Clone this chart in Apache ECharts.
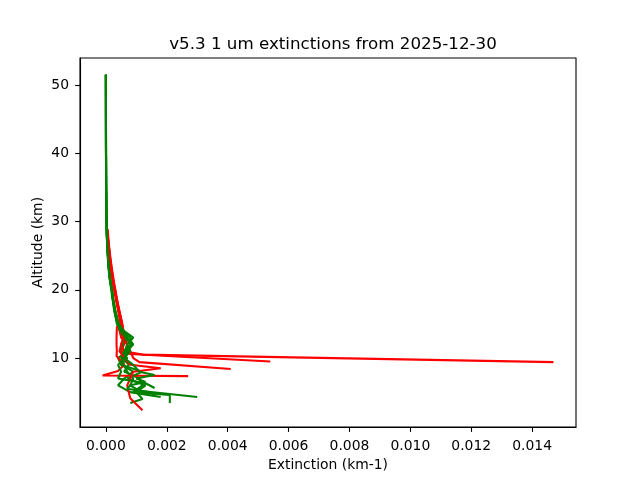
<!DOCTYPE html>
<html><head><meta charset="utf-8">
<script src="https://cdn.jsdelivr.net/npm/echarts@6/dist/echarts.min.js"></script>
<style>html,body{margin:0;padding:0;background:#fff}#c{width:640px;height:480px}</style>
</head><body><div id="c"></div>
<script>
const xTicks = [0, 0.002, 0.004, 0.006, 0.008, 0.010, 0.012, 0.014];
const yTicks = [10, 20, 30, 40, 50];

const g1Alt = [51.5, 45, 40, 35, 30, 28, 26, 24, 22, 21, 20, 19, 18, 17, 16, 15, 14, 13, 12, 11, 10, 9, 8, 7, 6, 5.2, 4.3];
const g1Ext = [0, 0.000002, 0.000004, 0.000008, 0.00002, 0.00003, 0.00005, 0.00008, 0.00012, 0.00015, 0.00019, 0.00022, 0.00025, 0.00028, 0.00032, 0.00036, 0.00045, 0.00058, 0.0007, 0.00062, 0.0005, 0.0006, 0.0007, 0.0009, 0.0008, 0.0011, 0.0030];
const g2Alt = [51.5, 45, 40, 35, 30, 28, 26, 24, 22, 21, 20, 19, 18, 17, 16, 15, 14, 13, 12, 11, 10, 9, 8, 7, 6, 5, 4.6, 3.4];
const g2Ext = [0, 0.000002, 0.000004, 0.00001, 0.000025, 0.00004, 0.00006, 0.00009, 0.00013, 0.00016, 0.0002, 0.00023, 0.00026, 0.0003, 0.00036, 0.00042, 0.00052, 0.0008, 0.00085, 0.0006, 0.00055, 0.00075, 0.0006, 0.0011, 0.0012, 0.0009, 0.0021, 0.0021];
const g3Alt = [51.5, 45, 40, 35, 30, 28, 26, 24, 22, 21, 20, 19, 18, 17, 16, 15, 14, 13, 12, 11, 10, 9, 8, 7, 6, 5, 4.3];
const g3Ext = [0, 0.000001, 0.000003, 0.000007, 0.000018, 0.00003, 0.00005, 0.00007, 0.00011, 0.00014, 0.00018, 0.0002, 0.00024, 0.00027, 0.00032, 0.00038, 0.0005, 0.0007, 0.0009, 0.0007, 0.0004, 0.0005, 0.0009, 0.0006, 0.0004, 0.0008, 0.0018];
const g4Alt = [51.5, 45, 40, 35, 30, 28, 26, 24, 22, 21, 20, 19, 18, 17, 16, 15, 14, 13, 12, 11, 10, 9, 8, 7, 6, 5, 4, 3.4];
const g4Ext = [0, 0.000002, 0.000005, 0.00001, 0.00002, 0.000035, 0.000055, 0.00008, 0.00012, 0.00016, 0.0002, 0.00022, 0.00025, 0.00029, 0.00034, 0.00039, 0.00048, 0.0006, 0.00055, 0.00045, 0.0007, 0.0005, 0.0012, 0.0007, 0.0013, 0.001, 0.0012, 0.0008];
const g5Alt = [51.5, 45, 40, 35, 30, 28, 26, 24, 22, 21, 20, 19, 18, 17, 16, 15, 14, 13, 12, 11, 10, 9, 8, 7.5, 7, 6.5, 6, 5.5, 5, 4.6];
const g5Ext = [0, 0.000001, 0.000003, 0.000008, 0.00002, 0.00003, 0.00005, 0.00008, 0.00012, 0.00015, 0.00019, 0.00022, 0.00025, 0.0003, 0.00035, 0.0004, 0.0005, 0.00065, 0.0008, 0.0007, 0.0006, 0.0009, 0.0011, 0.0016, 0.001, 0.0013, 0.0008, 0.0007, 0.0014, 0.0016];
const g6Alt = [51.5, 45, 40, 35, 30, 28, 26, 24, 22, 21, 20, 19, 18, 17, 16, 15, 14, 13, 12, 11, 10, 9, 8, 7, 6.3, 5.6];
const g6Ext = [0, 0.000002, 0.000004, 0.000009, 0.00002, 0.00003, 0.00005, 0.00008, 0.00012, 0.00016, 0.0002, 0.00023, 0.00027, 0.00031, 0.00036, 0.00042, 0.00058, 0.0009, 0.0007, 0.0008, 0.0006, 0.0004, 0.0005, 0.0004, 0.0013, 0.0016];

const r1Alt = [28.9, 27, 25, 23, 21, 20, 19, 18, 17, 16, 15, 14, 13, 12, 11, 10.5, 9.4];
const r1Ext = [0.00006, 0.00009, 0.00014, 0.0002, 0.00027, 0.00031, 0.00035, 0.00039, 0.00044, 0.00049, 0.00054, 0.00058, 0.0006, 0.0005, 0.0006, 0.0012, 0.0147];
const r2Alt = [28.5, 27, 25, 23, 21, 20, 19, 18, 17, 16, 15, 14, 13, 12, 11, 10.6, 9.5];
const r2Ext = [0.00005, 0.00008, 0.00012, 0.00018, 0.00025, 0.0003, 0.00034, 0.00039, 0.00043, 0.00048, 0.00053, 0.00057, 0.0007, 0.0006, 0.0005, 0.0008, 0.0054];
const r3Alt = [28, 27, 25, 23, 21, 20, 19, 18, 17, 16, 15, 14, 13, 12, 11, 10, 9.4, 8.4];
const r3Ext = [0.00004, 0.00007, 0.00012, 0.00017, 0.00024, 0.00028, 0.00033, 0.00037, 0.00041, 0.00046, 0.0005, 0.00045, 0.0005, 0.0007, 0.0008, 0.0009, 0.0011, 0.0041];
const r4Alt = [28.2, 27, 25, 23, 21, 20, 19, 18, 17, 16, 15, 14.5, 13, 12, 11, 10.3, 9, 8.1, 7.45, 7.35];
const r4Ext = [0.00005, 0.00008, 0.00012, 0.00017, 0.00023, 0.00027, 0.00031, 0.00035, 0.0004, 0.00044, 0.00048, 0.00036, 0.00035, 0.00035, 0.00036, 0.00035, 0.0006, 0.0004, -0.00011, 0.0027];
const r5Alt = [28.6, 27, 25, 23, 21, 20, 19, 18, 17, 16, 15, 14, 13, 12, 11, 10, 9, 8.5, 8, 7, 6, 5, 4.1, 2.35];
const r5Ext = [0.00005, 0.00008, 0.00013, 0.00019, 0.00026, 0.0003, 0.00034, 0.00038, 0.00043, 0.00048, 0.00053, 0.00056, 0.00058, 0.0005, 0.00045, 0.0006, 0.0008, 0.0018, 0.0009, 0.0008, 0.0007, 0.00075, 0.0008, 0.0012];

const profiles = [
  ['red', r1Ext, r1Alt], ['green', g1Ext, g1Alt],
  ['red', r2Ext, r2Alt], ['green', g2Ext, g2Alt],
  ['red', r3Ext, r3Alt], ['green', g3Ext, g3Alt],
  ['red', r4Ext, r4Alt], ['green', g4Ext, g4Alt],
  ['red', r5Ext, r5Alt], ['green', g5Ext, g5Alt],
  ['green', g6Ext, g6Alt]
];

let allX = [], allY = [];
profiles.forEach(p => { allX = allX.concat(p[1]); allY = allY.concat(p[2]); });
const xmin0 = Math.min(...allX), xmax0 = Math.max(...allX);
const ymin0 = Math.min(...allY), ymax0 = Math.max(...allY);
const xp = (xmax0 - xmin0) * 0.05, yp = (ymax0 - ymin0) * 0.05;

const font = 'DejaVu Sans';
const chart = echarts.init(document.getElementById('c'), null, {renderer: 'canvas'});
chart.setOption({
  animation: false,
  backgroundColor: '#fff',
  title: {
    text: 'v5.3 1 um extinctions from 2025-12-30',
    left: 328, top: 31, textAlign: 'center',
    textStyle: {fontFamily: font, fontSize: 16.7, fontWeight: 'normal', color: '#000'}
  },
  grid: {left: 80, right: 64, top: 58, bottom: 53, show: true, borderColor: '#000', borderWidth: 1.1, backgroundColor: 'transparent'},
  xAxis: {
    type: 'value', min: xmin0 - xp, max: xmax0 + xp,
    name: 'Extinction (km-1)', nameLocation: 'middle', nameGap: 30,
    nameTextStyle: {fontFamily: font, fontSize: 13.9, color: '#000'},
    axisLine: {show: true, onZero: false, lineStyle: {color: '#000', width: 1.1}},
    axisTick: {show: true, length: 4.9, lineStyle: {color: '#000', width: 1.1}, customValues: xTicks},
    axisLabel: {margin: 12, fontFamily: font, fontSize: 13.9, color: '#000', customValues: xTicks,
      formatter: v => v.toFixed(3)},
    splitLine: {show: false}
  },
  yAxis: {
    type: 'value', min: ymin0 - yp, max: ymax0 + yp,
    name: 'Altitude (km)', nameLocation: 'middle', nameGap: 35, nameMoveOverlap: false,
    nameTextStyle: {fontFamily: font, fontSize: 13.9, color: '#000'},
    axisLine: {show: true, onZero: false, lineStyle: {color: '#000', width: 1.1}},
    axisTick: {show: true, length: 4.9, lineStyle: {color: '#000', width: 1.1}, customValues: yTicks},
    axisLabel: {margin: 11, fontFamily: font, fontSize: 13.9, color: '#000', customValues: yTicks,
      formatter: v => String(Math.round(v))},
    splitLine: {show: false}
  },
  series: profiles.map(p => ({
    type: 'line', showSymbol: false, symbol: 'none', silent: true,
    lineStyle: {color: p[0], width: 2.08}, itemStyle: {color: p[0]},
    data: p[1].map((x, i) => [x, p[2][i]])
  }))
});
</script></body></html>
